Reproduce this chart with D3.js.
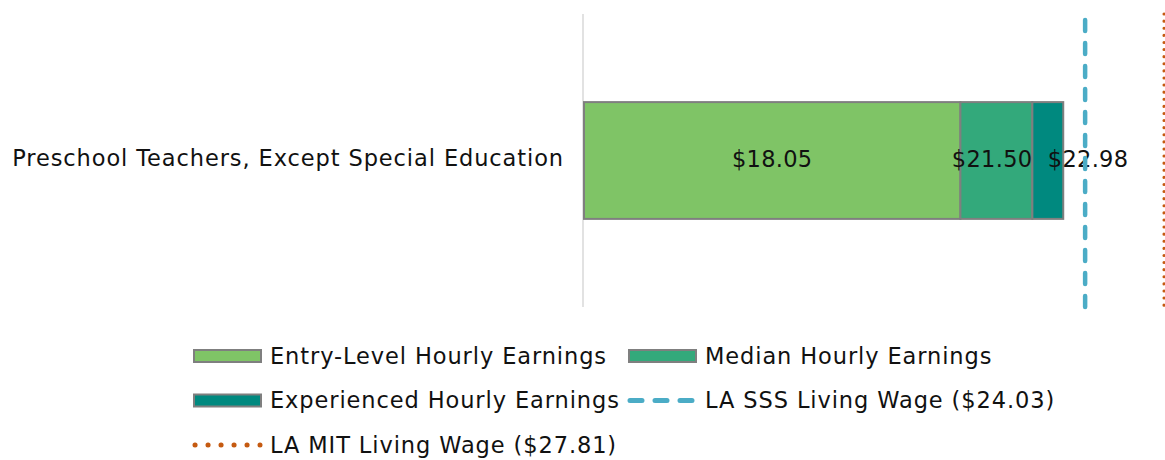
<!DOCTYPE html>
<html>
<head>
<meta charset="utf-8">
<script src="https://cdn.jsdelivr.net/npm/d3@7"></script>
<style>
  body { margin: 0; background: #fff; }
  text { font-family: "DejaVu Sans", sans-serif; fill: #111; letter-spacing: 0.9px; }
</style>
</head>
<body>
<svg width="1165" height="460"></svg>
<script>
const occupations = ["Preschool Teachers, Except Special Education"];
const seriesNames = ["Entry-Level Hourly Earnings", "Median Hourly Earnings", "Experienced Hourly Earnings"];
const entryWage = [18.05];
const medianWage = [21.50];
const experiencedWage = [22.98];
const sssWage = 24.03;
const mitWage = 27.81;
const colors = ["#7fc466", "#33a97b", "#00897f"];

const svg = d3.select("svg");
const margin = { top: 14, right: 0, bottom: 153, left: 584 };
const width = +svg.attr("width") - margin.left - margin.right;
const height = +svg.attr("height") - margin.top - margin.bottom;
const chart = svg.append("g").attr("transform", `translate(${margin.left},${margin.top})`);

const x = d3.scaleLinear().domain([0, 27.86]).range([0, width]);
const y = d3.scaleBand().domain(occupations).range([0, height]).padding(0.43);

// stacked segments: each level drawn from previous level
const rows = occupations.map((o, i) => {
  const vals = [entryWage[i], medianWage[i], experiencedWage[i]];
  return vals.map((v, j) => ({ occ: o, idx: j, key: seriesNames[j], x0: j ? vals[j - 1] : 0, x1: v }));
}).flat();

// category axis line
chart.append("line")
  .attr("x1", -1).attr("x2", -1)
  .attr("y1", 0).attr("y2", height)
  .attr("stroke", "#d9d9d9").attr("stroke-width", 1.5);

chart.selectAll("rect.seg")
  .data(rows)
  .enter()
  .append("rect")
  .attr("class", "seg")
  .attr("x", d => x(d.x0))
  .attr("y", d => y(d.occ))
  .attr("width", d => x(d.x1) - x(d.x0))
  .attr("height", y.bandwidth())
  .attr("fill", d => colors[d.idx])
  .attr("stroke", "#7f7f7f")
  .attr("stroke-width", 2);

// value labels (placed like the original: centre, end, start)
const labelAnchor = ["middle", "end", "start"];
chart.selectAll("text.val")
  .data(rows)
  .enter()
  .append("text")
  .attr("class", "val")
  .attr("x", d => d.idx === 1 ? x(d.x1) : x((d.x0 + d.x1) / 2))
  .attr("y", d => y(d.occ) + y.bandwidth() / 2)
  .attr("dy", "0.28em")
  .attr("text-anchor", d => labelAnchor[d.idx])
  .attr("font-size", 22.5)
  .style("letter-spacing", "0.3px")
  .text(d => "$" + d.x1.toFixed(2));

// category labels
chart.selectAll("text.cat")
  .data(occupations)
  .enter()
  .append("text")
  .attr("class", "cat")
  .attr("x", -20)
  .attr("y", d => y(d) + y.bandwidth() / 2)
  .attr("dy", "0.25em")
  .attr("text-anchor", "end")
  .attr("font-size", 22.5)
  .text(d => d);

// living wage lines
chart.append("line")
  .attr("x1", x(sssWage)).attr("x2", x(sssWage))
  .attr("y1", 6).attr("y2", height + 2)
  .attr("stroke", "#4bacc6").attr("stroke-width", 4.5)
  .attr("stroke-linecap", "round")
  .attr("stroke-dasharray", "11 12");

chart.append("line")
  .attr("x1", x(mitWage)).attr("x2", x(mitWage))
  .attr("y1", 0).attr("y2", height + 2)
  .attr("stroke", "#c55a11").attr("stroke-width", 3)
  .attr("stroke-linecap", "round")
  .attr("stroke-dasharray", "0.1 7");

// Legend
const legendItems = [
  { label: seriesNames[0], type: "rect", color: colors[0], col: 0, row: 0 },
  { label: seriesNames[1], type: "rect", color: colors[1], col: 1, row: 0 },
  { label: seriesNames[2], type: "rect", color: colors[2], col: 0, row: 1 },
  { label: `LA SSS Living Wage ($${sssWage.toFixed(2)})`, type: "dash", color: "#4bacc6", col: 1, row: 1 },
  { label: `LA MIT Living Wage ($${mitWage.toFixed(2)})`, type: "dot", color: "#c55a11", col: 0, row: 2 }
];
const colX = [193, 628];

const legend = svg.append("g");
legendItems.forEach(d => {
  const g = legend.append("g")
    .attr("transform", `translate(${colX[d.col]},${356 + d.row * 44.5})`);
  if (d.type === "rect") {
    g.append("rect")
      .attr("x", 1).attr("y", -6)
      .attr("width", 67).attr("height", 12)
      .attr("fill", d.color)
      .attr("stroke", "#7f7f7f").attr("stroke-width", 2);
  } else if (d.type === "dash") {
    g.append("line")
      .attr("x1", 2).attr("x2", 64).attr("y1", 0).attr("y2", 0)
      .attr("stroke", d.color).attr("stroke-width", 5)
      .attr("stroke-linecap", "round")
      .attr("stroke-dasharray", "12 13");
  } else {
    g.append("line")
      .attr("x1", 2).attr("x2", 67).attr("y1", 0).attr("y2", 0)
      .attr("stroke", d.color).attr("stroke-width", 5)
      .attr("stroke-linecap", "round")
      .attr("stroke-dasharray", "0.1 12.9");
  }
  g.append("text")
    .attr("x", 77)
    .attr("dy", "0.35em")
    .attr("font-size", 22.5)
    .text(d.label);
});
</script>
</body>
</html>
